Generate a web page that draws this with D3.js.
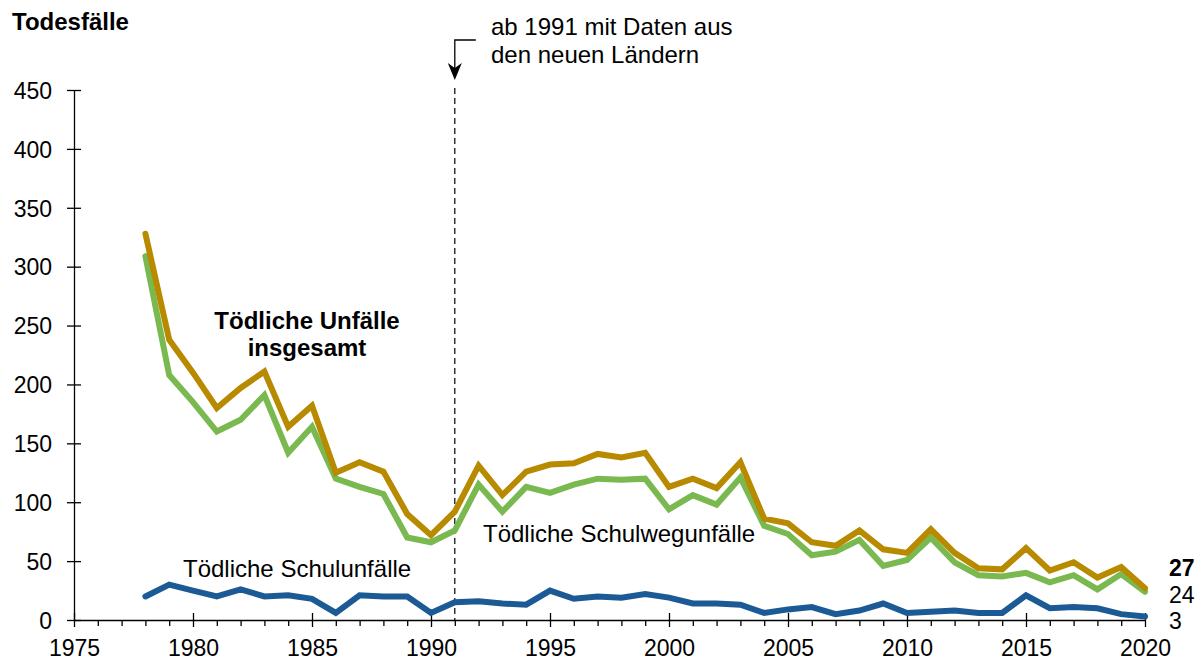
<!DOCTYPE html>
<html>
<head>
<meta charset="utf-8">
<script src="https://cdn.jsdelivr.net/npm/d3@7"></script>
<style>
  html, body { margin: 0; padding: 0; background: #fff; }
  svg { display: block; font-family: "Liberation Sans", Arial, sans-serif; }
</style>
</head>
<body>
<svg id="chart" width="1204" height="662"></svg>
<script>
// Jahre 1978–2020
const years = d3.range(1978, 2021);

// Tödliche Unfälle insgesamt
const totalDeaths = [328, 238, 210, 180, 197, 211, 164, 182, 125, 134, 126, 90, 72,
  92, 131, 106, 126, 132, 133, 141, 138, 142, 113, 120, 112, 134, 86, 82,
  66, 63, 76, 60, 57, 77, 57, 44, 43, 61, 42, 49, 36, 45, 27];

// Tödliche Schulwegunfälle
const schoolRoadDeaths = [309, 208, 185, 160, 170, 191, 142, 164, 120, 113, 107, 70, 66,
  76, 115, 92, 113, 108, 115, 120, 119, 120, 94, 106, 98, 121, 80, 73,
  55, 58, 68, 46, 51, 70, 49, 38, 37, 40, 32, 38, 26, 39, 24];

// Tödliche Schulunfälle
const schoolDeaths = [20, 30, 25, 20, 26, 20, 21, 18, 6, 21, 20, 20, 6,
  15, 16, 14, 13, 25, 18, 20, 19, 22, 19, 14, 14, 13, 6, 9,
  11, 5, 8, 14, 6, 7, 8, 6, 6, 21, 10, 11, 10, 5, 3];

const yTicks = [0, 50, 100, 150, 200, 250, 300, 350, 400, 450];
const xTicks = [1975, 1980, 1985, 1990, 1995, 2000, 2005, 2010, 2015, 2020];

const svg = d3.select("#chart");
const x = d3.scaleLinear().domain([1975, 2020]).range([74, 1145]);
const y = d3.scaleLinear().domain([0, 450]).range([620, 90]);

const axisColor = "#000";
const tickFont = 23;
const labelFont = 24;

// y axis: line with ticks crossing it
const yAxis = svg.append("g").attr("transform", `translate(${x(1975)},0)`)
  .call(d3.axisLeft(y).tickValues(yTicks).tickSize(7).tickSizeOuter(0).tickPadding(15));
yAxis.selectAll(".tick line").attr("x2", 7).attr("x1", -7);
yAxis.select(".domain").attr("stroke", axisColor).attr("stroke-width", 1.3);
yAxis.selectAll(".tick line").attr("stroke", axisColor).attr("stroke-width", 1.3);
yAxis.selectAll(".tick text").attr("font-size", tickFont).attr("fill", "#000")
  .attr("font-family", "Liberation Sans, Arial, sans-serif").attr("dy", "0.36em");

// x axis: minor ticks every year below, major ticks every five years crossing
const xAxis = svg.append("g").attr("transform", `translate(0,${y(0)})`)
  .call(d3.axisBottom(x).tickValues(d3.range(1975, 2021)).tickSize(6)
    .tickSizeOuter(0).tickFormat(d => xTicks.includes(d) ? d : ""));
xAxis.select(".domain").attr("stroke", axisColor).attr("stroke-width", 1.3);
xAxis.selectAll(".tick line").attr("stroke", axisColor).attr("stroke-width", 1.3)
  .attr("y1", d => xTicks.includes(d) ? -7 : 0)
  .attr("y2", d => xTicks.includes(d) ? 7 : 6);
xAxis.selectAll(".tick text").attr("font-size", tickFont).attr("fill", "#000")
  .attr("font-family", "Liberation Sans, Arial, sans-serif").attr("y", 20);

// dashed marker at 1991
svg.append("line")
  .attr("x1", x(1991)).attr("x2", x(1991))
  .attr("y1", 88).attr("y2", y(0))
  .attr("stroke", "#000").attr("stroke-width", 1.2)
  .attr("stroke-dasharray", "6,4");

// annotation arrow
const ax = x(1991);
svg.append("path")
  .attr("d", `M${ax + 21},40 H${ax} V72`)
  .attr("fill", "none").attr("stroke", "#000").attr("stroke-width", 1.3);
svg.append("path")
  .attr("d", `M${ax - 7},63 L${ax},80 L${ax + 7},63 L${ax},68 Z`)
  .attr("fill", "#000");

svg.append("text").attr("x", 491).attr("y", 35).attr("font-size", labelFont)
  .text("ab 1991 mit Daten aus");
svg.append("text").attr("x", 491).attr("y", 63).attr("font-size", labelFont)
  .text("den neuen Ländern");

// title
svg.append("text").attr("x", 12).attr("y", 30).attr("font-size", 24)
  .attr("font-weight", "bold").text("Todesfälle");

// lines
const line = d3.line().x((d, i) => x(years[i])).y(d => y(d));
const series = [
  { values: schoolRoadDeaths, color: "#7AB850" },
  { values: totalDeaths, color: "#B88A00" },
  { values: schoolDeaths, color: "#1B5A94" }
];
series.forEach(s => {
  svg.append("path").datum(s.values)
    .attr("d", line)
    .attr("fill", "none")
    .attr("stroke", s.color)
    .attr("stroke-width", 6)
    .attr("stroke-linejoin", "miter")
    .attr("stroke-miterlimit", 3)
    .attr("stroke-linecap", "round");
});

// series labels
svg.append("text").attr("x", 307).attr("y", 329).attr("text-anchor", "middle")
  .attr("font-size", labelFont).attr("font-weight", "bold").text("Tödliche Unfälle");
svg.append("text").attr("x", 307).attr("y", 356).attr("text-anchor", "middle")
  .attr("font-size", labelFont).attr("font-weight", "bold").text("insgesamt");
svg.append("text").attr("x", 183).attr("y", 577).attr("font-size", labelFont)
  .text("Tödliche Schulunfälle");
svg.append("text").attr("x", 483).attr("y", 542).attr("font-size", labelFont)
  .text("Tödliche Schulwegunfälle");

// end values 2020
const last = years.length - 1;
svg.append("text").attr("x", 1169).attr("y", 576).attr("font-size", tickFont)
  .attr("font-weight", "bold").text(totalDeaths[last]);
svg.append("text").attr("x", 1169).attr("y", 603).attr("font-size", tickFont)
  .text(schoolRoadDeaths[last]);
svg.append("text").attr("x", 1169).attr("y", 629).attr("font-size", tickFont)
  .text(schoolDeaths[last]);
</script>
</body>
</html>
